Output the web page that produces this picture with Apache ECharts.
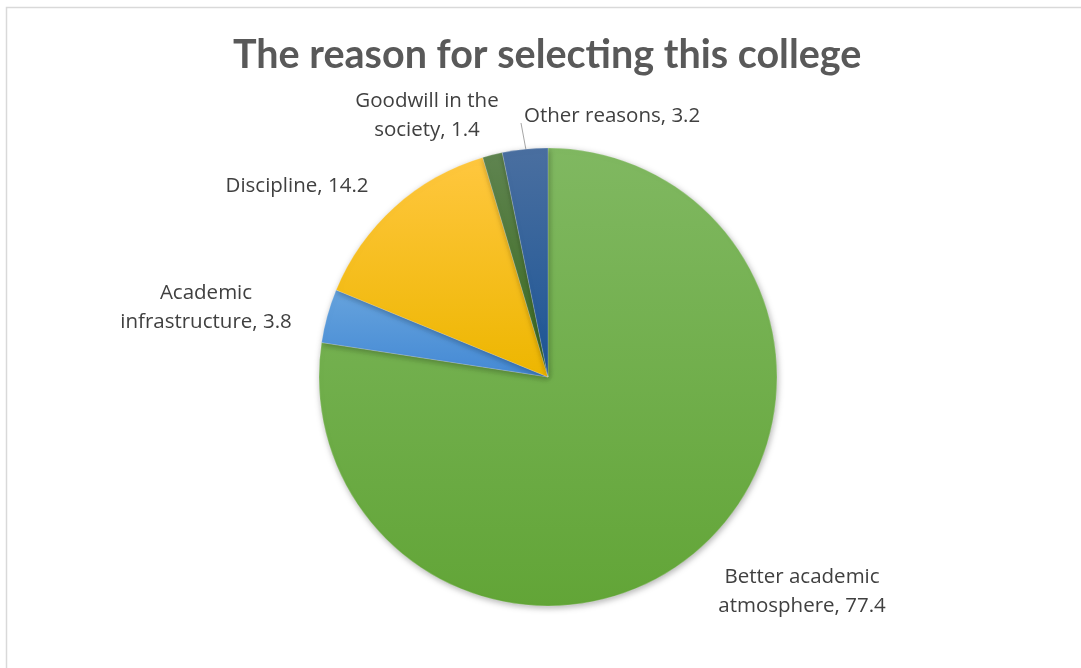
<!DOCTYPE html>
<html style="height: 100%">
<head>
<meta charset="utf-8">
<script src="https://cdn.jsdelivr.net/npm/echarts@6/dist/echarts.min.js"></script>
</head>
<body style="height: 100%; margin: 0; background: #fff">
<div id="container" style="width: 1081px; height: 668px"></div>
<script type="text/javascript">
const categories = ['Better academic\natmosphere', 'Academic\ninfrastructure', 'Discipline', 'Goodwill in the\nsociety', 'Other reasons'];
const values = [77.4, 3.8, 14.2, 1.4, 3.2];

// gradient stops per slice (top, bottom)
const colors = [
    ['#80b861', '#62a537'],
    ['#66a3dd', '#4489d4'],
    ['#ffc73f', '#edb600'],
    ['#5f8450', '#3b6a1f'],
    ['#4a6fa0', '#1c5595']
];
// where each label sits (text centre)
const labelSpots = [
    [802, 592, 'center'],
    [206, 308, 'center'],
    [297, 186, 'center'],
    [427, 116, 'center'],
    [524, 116, 'left']
];

const dom = document.getElementById('container');
const myChart = echarts.init(dom);

const data = values.map(function (v, i) {
    return {
        name: categories[i],
        value: v,
        itemStyle: {
            color: new echarts.graphic.LinearGradient(0, 0, 0, 1, [
                {offset: 0, color: colors[i][0]},
                {offset: 1, color: colors[i][1]}
            ])
        }
    };
});

const option = {
    backgroundColor: '#fff',
    animation: false,
    title: {
        text: 'The reason for selecting this college',
        left: 228,
        top: 30,
        textStyle: {
            fontFamily: 'Lato',
            fontSize: 39.5,
            fontWeight: 'bold',
            color: '#595959'
        }
    },
    graphic: [{
        type: 'rect',
        shape: {x: 6.5, y: 7.5, width: 1200, height: 1000},
        style: {fill: 'none', stroke: '#d9d9d9', lineWidth: 1.5},
        silent: true
    }],
    series: [{
        type: 'pie',
        center: [548, 377],
        radius: 229,
        startAngle: 90,
        clockwise: true,
        data: data,
        itemStyle: {
            borderColor: 'rgba(255,255,255,0.4)',
            borderWidth: 0.5,
            shadowBlur: 6,
            shadowOffsetX: 1,
            shadowOffsetY: 2,
            shadowColor: 'rgba(0,0,0,0.3)'
        },
        label: {
            show: true,
            formatter: function (p) { return p.name.replace(/\n/, p.dataIndex === 4 ? '' : '\n') + ', ' + p.value; },
            fontFamily: 'Open Sans',
            fontSize: 20.5,
            lineHeight: 29,
            color: '#404040'
        },
        labelLine: {
            show: true,
            lineStyle: {color: '#a6a6a6', width: 1}
        },
        labelLayout: function (params) {
            const s = labelSpots[params.dataIndex];
            const out = {x: s[0], y: s[1], align: s[2], verticalAlign: 'middle'};
            if (params.dataIndex === 4) {
                out.labelLinePoints = [[526, 150], [521, 123], [521, 123]];
            } else {
                out.labelLinePoints = [[0, 0], [0, 0], [0, 0]];
            }
            return out;
        }
    }]
};

myChart.setOption(option);
</script>
</body>
</html>
